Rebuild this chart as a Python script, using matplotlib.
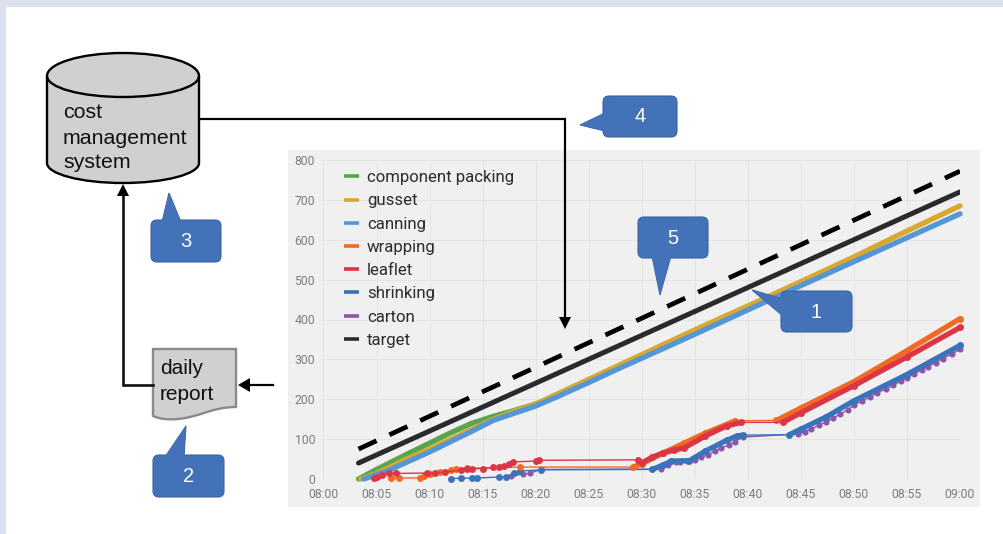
import matplotlib
matplotlib.use("Agg")
import matplotlib.pyplot as plt
from matplotlib.path import Path
from matplotlib.patches import PathPatch, Polygon, Rectangle, FancyBboxPatch
from matplotlib.lines import Line2D
import numpy as np

W, H = 1004, 534

# ---------- data (minutes after 08:00, cumulative count) ----------
time_labels = ["08:00","08:05","08:10","08:15","08:20","08:25","08:30","08:35","08:40","08:45","08:50","08:55","09:00"]
time_ticks = [0,5,10,15,20,25,30,35,40,45,50,55,60]
value_ticks = [0,100,200,300,400,500,600,700,800]

component_t = [3.3,5,8,10,12,14,16,18,20]
component_v = [0,24,64,90,116,140,157,172,188]
gusset_t = [3.5,5,8,10,12,14,16,18,20,25,30,35,40,45,50,55,60]
gusset_v = [0,14,52,75,100,125,150,170,188,250,312,374,434,495,557,622,685]
canning_t = [3.8,6,8,10,12,14,16,18,20,22,25,28,30,33.6,40,45,50,55,60]
canning_v = [0,20,44,68,94,120,147,165,183,206,242,279,303,346,424,485,545,605,665]

wrapping_t = [6.4,7.1,9.1,9.5,10,11,12,12.5,13.5,18.5,29.2,30,32,34,36,38.8,42.7,45,50,55,60]
wrapping_v = [2,2,3,8,12,18,22,26,27,30,30,38,65,90,115,146,147,178,244,322,402]
leaflet_t = [4.8,5,5.5,6.2,6.8,9.8,10.5,11.5,13,13.5,14,15,16,16.5,17,17.5,17.9,20,20.3,29.6,30,31,32,33,34,36,38,39.4,43.3,45,50,55,60]
leaflet_v = [2,5,10,14,14,15,15,18,22,25,26,26,29,30,33,38,43,45,47,48,40,55,65,72,78,108,133,142,142,166,234,306,380]
shrinking_t = [12,13,14,14.5,16.5,17.2,18,18.5,20.5,31,32,32.8,34.5,36,38,39,39.5,43.9,45,47.4,50,55,60]
shrinking_v = [1,2,2.5,2.5,5,5,14,20,23,24,35,45,46,70,97,108,110,111,125,156,196,262,335]
carton_t = [17.7,18.8,19.5,20.5,31.8,32.5,33.2,33.6,34.3,35,35.6,36.2,36.9,37.5,38.2,38.8,39.5,44.7,45.4,46,46.7,47.4,48,48.7,49.4,50,50.8,51.5,52.2,53,53.7,54.4,55,55.7,56.4,57,57.7,58.4,59.2,60]
carton_v = [8,12,15,24,25,35,42,43,44,48,55,60,70,78,85,94,105,113,118,126,135,143,152,163,173,186,196,206,216,226,235,245,254,264,274,282,292,302,313,325]
target_t = [3.3,60]
target_v = [40,720]
plan_t = [3.3,60]
plan_v = [75,772]

series_names = ["component packing","gusset","canning","wrapping","leaflet","shrinking","carton","target"]

# minute windows in which a series runs as a continuous thick band
wrapping_dense = [(29.2,38.8),(42.7,60)]
leaflet_dense = [(30,39.4),(43.3,60)]
shrinking_dense = [(31,39.5),(43.9,60)]

# ---------- figure ----------
plt.rcParams["font.family"] = ["Liberation Sans", "DejaVu Sans"]
fig = plt.figure(figsize=(W/100, H/100), dpi=100, facecolor="#dae1ed")

ov = fig.add_axes([0, 0, 1, 1], zorder=1)
ov.set_xlim(0, W); ov.set_ylim(H, 0); ov.axis("off")
ov.add_patch(Rectangle((6, 7), W, H, fc="white", ec="none", zorder=0))
ov.add_patch(Rectangle((288, 150), 692, 357, fc="#f0f0f0", ec="none", zorder=1))

# ---------- chart ----------
L, R, T, B = 323.5, 960, 160, 479
ax = fig.add_axes([L/W, 1-B/H, (R-L)/W, (B-T)/H], zorder=2)
ax.patch.set_alpha(0)
ax.set_xlim(0, 60); ax.set_ylim(0, 800)
for s in ax.spines.values():
    s.set_visible(False)
ax.set_xticks(time_ticks, time_labels)
ax.set_yticks(value_ticks)
ax.tick_params(length=0, colors="#7d7d7d", labelsize=8.8)
ax.tick_params(axis="x", pad=6.5)
ax.tick_params(axis="y", pad=6)
for lab in ax.get_xticklabels() + ax.get_yticklabels():
    lab.set_fontfamily("Roboto")
ax.grid(True, color="#e4e4e4", lw=0.8)
ax.set_axisbelow(True)

colors = ["#57a64c", "#d9a830", "#5596d6", "#f26a22", "#dc3545", "#3a72bb", "#8d57a9", "#2a2a2e"]

def sparse(t, v, c, z, dense):
    t = np.array(t); v = np.array(v, dtype=float)
    ax.plot(t, v, color=c, lw=1, marker="o", ms=5, mew=0, zorder=z, clip_on=False)
    for a, b in dense:
        m = (t >= a) & (t <= b)
        ax.plot(t[m], v[m], color=c, lw=3.8, solid_capstyle="round", zorder=z, clip_on=False)

ax.plot(component_t, component_v, color=colors[0], lw=3.8, zorder=3, solid_capstyle="round", clip_on=False)
ax.plot(gusset_t, gusset_v, color=colors[1], lw=3.8, zorder=4, solid_capstyle="round", clip_on=False)
ax.plot(canning_t, canning_v, color=colors[2], lw=3.8, zorder=5, solid_capstyle="round", clip_on=False)
ax.plot(carton_t, carton_v, color=colors[6], lw=1, marker="o", ms=4.4, mew=0, zorder=3, clip_on=False)
sparse(shrinking_t, shrinking_v, colors[5], 4, shrinking_dense)
sparse(wrapping_t, wrapping_v, colors[3], 5, wrapping_dense)
sparse(leaflet_t, leaflet_v, colors[4], 6, leaflet_dense)
ax.plot(target_t, target_v, color=colors[7], lw=3.6, zorder=7, solid_capstyle="round")
ax.plot(plan_t, plan_v, color="black", lw=3.4, zorder=7, dashes=(4.2, 3.0), dash_capstyle="butt")

handles = [Line2D([], [], color=c, lw=2.6, solid_capstyle="butt") for c in colors]
leg = ax.legend(handles, series_names, loc="upper left", bbox_to_anchor=(0.032, 0.968),
                frameon=False, fontsize=12.1, labelcolor="#2c2c2c",
                handlelength=0.9, handletextpad=0.48, labelspacing=0.49,
                borderpad=0, borderaxespad=0)
for tx in leg.get_texts():
    tx.set_fontfamily("Roboto")

# ---------- diagram ----------
ov2 = fig.add_axes([0, 0, 1, 1], zorder=3)
ov2.set_xlim(0, W); ov2.set_ylim(H, 0); ov2.axis("off"); ov2.patch.set_alpha(0)

GREY = "#d0d0d2"
k = 0.5523
xl, xr, xc = 47, 199, 123
rx = (xr - xl) / 2
# cylinder body
body = Path(
    [(xl, 76), (xl, 76 - 23 * k), (xc - rx * k, 53), (xc, 53),
     (xc + rx * k, 53), (xr, 76 - 23 * k), (xr, 76),
     (xr, 163),
     (xr, 163 + 20 * k), (xc + rx * k, 183), (xc, 183),
     (xc - rx * k, 183), (xl, 163 + 20 * k), (xl, 163),
     (xl, 76)],
    [Path.MOVETO, Path.CURVE4, Path.CURVE4, Path.CURVE4, Path.CURVE4, Path.CURVE4, Path.CURVE4,
     Path.LINETO, Path.CURVE4, Path.CURVE4, Path.CURVE4, Path.CURVE4, Path.CURVE4, Path.CURVE4,
     Path.CLOSEPOLY])
ov2.add_patch(PathPatch(body, fc=GREY, ec="black", lw=1.7))
lid = Path(
    [(xl, 76), (xl, 76 + 21 * k), (xc - rx * k, 97), (xc, 97),
     (xc + rx * k, 97), (xr, 76 + 21 * k), (xr, 76)],
    [Path.MOVETO, Path.CURVE4, Path.CURVE4, Path.CURVE4, Path.CURVE4, Path.CURVE4, Path.CURVE4])
ov2.add_patch(PathPatch(lid, fc="none", ec="black", lw=1.7))
for y, s in zip([112, 138, 163], ["cost", "management", "system"]):
    ov2.text(63, y, s, fontsize=15.4, color="#111111", va="center", ha="left")

# document
doc = Path(
    [(153, 349), (236, 349), (236, 407),
     (212, 407), (200, 417), (178, 419),
     (168, 420), (160, 419), (153, 416), (153, 349)],
    [Path.MOVETO, Path.LINETO, Path.LINETO,
     Path.CURVE4, Path.CURVE4, Path.CURVE4, Path.CURVE4, Path.CURVE4, Path.CURVE4, Path.CLOSEPOLY])
ov2.add_patch(PathPatch(doc, fc=GREY, ec="#8a8a8a", lw=1.7))
ov2.text(160, 369, "daily", fontsize=15, color="#111111", va="center", ha="left")
ov2.text(160, 394.5, "report", fontsize=15, color="#111111", va="center", ha="left")

# connectors
LW = 1.6
ov2.plot([199, 565, 565], [119, 119, 318], color="black", lw=LW, solid_joinstyle="miter")
ov2.add_patch(Polygon([(559, 317), (571, 317), (565, 329)], fc="black", ec="none"))
ov2.plot([153, 123, 123], [385, 385, 195], color="#111111", lw=LW+0.3, solid_joinstyle="miter")
ov2.add_patch(Polygon([(117, 196), (129, 196), (123, 184)], fc="black", ec="none"))
ov2.plot([273, 248], [385, 385], color="black", lw=LW)
ov2.add_patch(Polygon([(250, 378), (250, 392), (238, 385)], fc="black", ec="none"))

# callouts
BLUE, EDGE = "#4472b8", "#3a65a6"
def callout(x0, y0, x1, y1, tip, base, label):
    ov2.add_patch(Polygon([tip] + base, fc=BLUE, ec=EDGE, lw=0.8, zorder=5))
    ov2.add_patch(FancyBboxPatch((x0 + 5, y0 + 5), x1 - x0 - 10, y1 - y0 - 10,
                                 boxstyle="round,pad=5,rounding_size=6",
                                 fc=BLUE, ec=EDGE, lw=0.8, zorder=5))
    ov2.add_patch(Polygon([tip] + base, fc=BLUE, ec="none", zorder=6))
    ov2.text((x0 + x1) / 2, (y0 + y1) / 2 + 0.5, label, color="white", fontsize=14.5,
             ha="center", va="center", zorder=7)

callout(151, 220, 221, 262, (169, 193), [(162, 222), (181, 222)], "3")
callout(153, 455, 224, 497, (186, 426), [(165, 457), (184, 457)], "2")
callout(603, 96, 677, 137, (580, 125), [(605, 113), (605, 131)], "4")
callout(638, 217, 708, 258, (660, 295), [(652, 256), (671, 256)], "5")
callout(781, 291, 852, 332, (752, 290), [(783, 299), (783, 316)], "1")

fig.savefig("out.png", dpi=100, facecolor=fig.get_facecolor())
